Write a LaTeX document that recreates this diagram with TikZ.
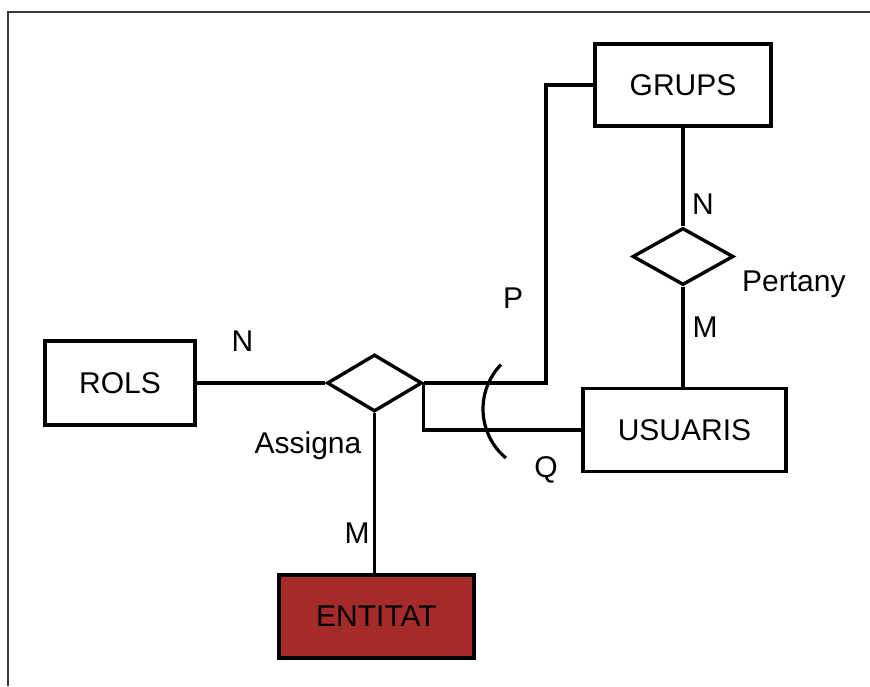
\documentclass[tikz,border=0pt]{standalone}
\usepackage{fontspec}
\setmainfont{Liberation Sans}
\usetikzlibrary{shapes.geometric}
\definecolor{entred}{HTML}{A52A2A}
\definecolor{framegray}{HTML}{3A3A3A}
\begin{document}
\begin{tikzpicture}[x=1pt,y=1pt,
  entity/.style={draw=black, line width=3.6pt, fill=white, inner sep=0pt, font=\fontsize{30}{36}\selectfont},
  rel/.style={draw=black, line width=3.4pt, shape=diamond, inner sep=0pt, fill=white},
  conn/.style={draw=black, line width=3.4pt},
  lbl/.style={inner sep=0pt, anchor=base, font=\fontsize{30}{36}\selectfont}]
\useasboundingbox (0,0) rectangle (870,686);
\draw[framegray, line width=2pt] (8,0) -- (8,674) -- (870,674);
% entities
\node[entity, minimum width=150pt, minimum height=84pt] (rols) at (120,303) {ROLS};
\node[entity, minimum width=176pt, minimum height=82pt] (grups) at (683,601) {GRUPS};
\node[entity, minimum width=203pt, minimum height=83pt] (usuaris) at (684.5,256) {USUARIS};
\node[entity, fill=entred, minimum width=195pt, minimum height=83pt] (entitat) at (376.5,69.5) {ENTITAT};
% relationships
\node[rel, minimum width=95pt, minimum height=57pt, aspect=1.67] (assigna) at (374.5,303) {};
\node[rel, minimum width=101pt, minimum height=57pt, aspect=1.77] (pertany) at (683,429.5) {};
% connectors
\coordinate (pc) at (546,303);
\coordinate (arcc) at (547,277);
\draw[conn] (rols.east) -- (assigna.west);
\draw[conn] (assigna.east) -- (pc) |- (grups.west);
\draw[conn] (assigna.east) |- (usuaris.west);
\draw[conn] (assigna.south) -- (assigna.south |- entitat.north);
\draw[conn] (grups.south) -- (pertany.north);
\draw[conn] (pertany.south) -- (pertany.south |- usuaris.north);
\draw[black, line width=3.2pt] (arcc) ++(136:64pt) arc[start angle=136, end angle=230, radius=64pt];
% labels
\node[lbl] (n1) at (242.5,334) {N};
\node[lbl] (assl) at (308,232) {Assigna};
\node[lbl] (m1) at (357,143) {M};
\node[lbl] (p) at (513,377) {P};
\node[lbl] (q) at (546,208) {Q};
\node[lbl] (n2) at (703,471) {N};
\node[lbl, anchor=base west] (pertl) at (742,394) {Pertany};
\node[lbl] (m2) at (705,348) {M};
\end{tikzpicture}
\end{document}
